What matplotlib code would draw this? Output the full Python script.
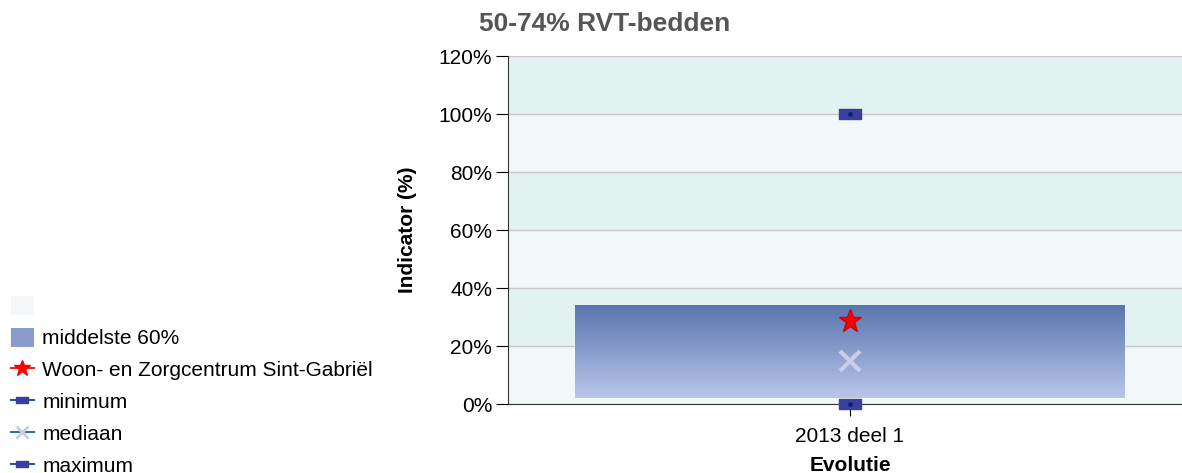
import numpy as np
import matplotlib
matplotlib.use('agg')
import matplotlib.pyplot as plt
from matplotlib.lines import Line2D
from matplotlib.patches import Patch, Rectangle
from matplotlib.path import Path

plt.rcParams['font.family'] = ['Liberation Sans', 'DejaVu Sans']

# data (percentages)
categories = ['2013 deel 1']
p20 = [2]
p80 = [34]
eigen = [28.5]
minimum = [0]
mediaan = [15]
maximum = [100]

title = '50-74% RVT-bedden'
instelling = 'Woon- en Zorgcentrum Sint-Gabriël'

W, H = 1182, 473
fig = plt.figure(figsize=(W / 100, H / 100), dpi=100)
# axes: x 508..1192 px (right part falls off the figure), y 56..404 px
ax = fig.add_axes([508 / W, (H - 404) / H, 684 / W, 348 / H])

x = np.arange(len(categories))
ax.set_xlim(-0.5, 0.5)
ax.set_ylim(0, 120)

# alternating bands
for i, lo in enumerate(range(0, 120, 20)):
    c = '#f0f9f8' if i % 2 == 0 else '#e2f2f0'
    ax.axhspan(lo, lo + 20, color=c, zorder=0, lw=0)
ax.yaxis.grid(True, color='#c8c8c8', lw=1, zorder=1)
ax.set_axisbelow(True)

# middle 60% box with vertical gradient
grad = np.linspace(0, 1, 256).reshape(-1, 1)
cmap = matplotlib.colors.LinearSegmentedColormap.from_list('g', ['#b9c6ea', '#5a75ae'])
bw = 0.804
for xi, lo, hi in zip(x, p20, p80):
    im = ax.imshow(grad, extent=(xi - bw / 2, xi + bw / 2, lo, hi), origin='lower',
                   cmap=cmap, aspect='auto', zorder=2)
    rect = Rectangle((xi - bw / 2, lo), bw, hi - lo, transform=ax.transData)
    im.set_clip_path(rect)

rect_marker = Path([(-1, -0.45), (1, -0.45), (1, 0.45), (-1, 0.45), (-1, -0.45)],
                   [Path.MOVETO, Path.LINETO, Path.LINETO, Path.LINETO, Path.CLOSEPOLY])

ax.plot(x, eigen, ls='none', marker='*', ms=17, color='#ff0000', mec='#d00000', zorder=5)
ax.plot(x, mediaan, ls='none', marker='x', ms=14, mew=3, color='#c9cde8', zorder=5)
for vals in (minimum, maximum):
    ax.plot(x, vals, ls='none', marker=rect_marker, ms=16, color='#3b3f9c', mec='#3b3f9c', zorder=5, clip_on=False)
    ax.plot(x, vals, ls='none', marker='o', ms=2.5, color='#10207a', zorder=6, clip_on=False)

ax.set_xticks(x)
ax.set_xticklabels(categories, fontsize=15)
ax.set_yticks(range(0, 121, 20))
ax.set_yticklabels(['%d%%' % v for v in range(0, 121, 20)], fontsize=15)
ax.tick_params(axis='both', direction='out', length=8.5, color='black', pad=3)
ax.tick_params(axis='x', pad=8)
for s in ('top', 'right'):
    ax.spines[s].set_visible(False)
ax.spines['left'].set_color('#333333')
ax.spines['bottom'].set_color('#333333')

ax.set_ylabel('Indicator (%)', fontsize=15, fontweight='bold', labelpad=15)
ax.set_xlabel('Evolutie', fontsize=15, fontweight='bold', labelpad=7)
fig.text(605 / W, 1 - 24 / H, title, fontsize=19, fontweight='bold', color='#555555',
         ha='center', va='center')

handles = [
    Patch(facecolor='#f4f6f8', edgecolor='none'),
    Patch(facecolor='#8a9ccd', edgecolor='none'),
    Line2D([], [], color='#e8251a', marker='*', ms=12, mfc='#ff0000', mec='#ff0000'),
    Line2D([], [], color='#2b4fa8', marker=rect_marker, ms=9, mfc='#3b3f9c', mec='#3b3f9c'),
    Line2D([], [], color='#2d7a86', marker='x', ms=8, mew=2, mec='#c9cde8'),
    Line2D([], [], color='#2b4fa8', marker=rect_marker, ms=9, mfc='#3b3f9c', mec='#3b3f9c'),
]
labels = ['', 'middelste 60%', instelling, 'minimum', 'mediaan', 'maximum']
fig.legend(handles, labels, loc='upper left', bbox_to_anchor=(11 / W, 1 - 296 / H), frameon=False,
           fontsize=15, handlelength=1.1, handleheight=1.0, handletextpad=0.4,
           labelspacing=0.55, borderaxespad=0, borderpad=0)

fig.savefig('out.png', dpi=100)
